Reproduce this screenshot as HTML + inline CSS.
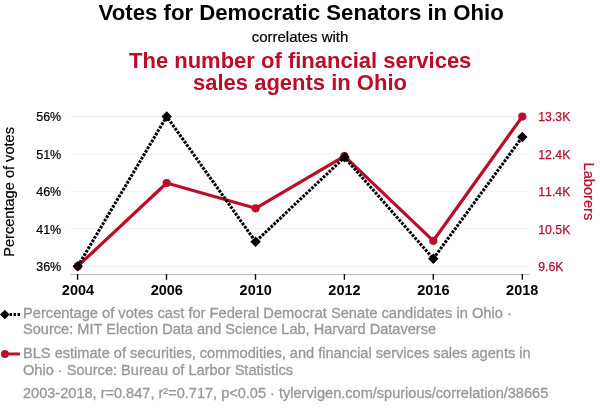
<!DOCTYPE html>
<html><head><meta charset="utf-8">
<style>
html,body{margin:0;padding:0;background:#fff;}
svg{display:block;will-change:transform;}
text{font-family:"Liberation Sans",sans-serif;}
</style></head>
<body>
<svg width="600" height="414" viewBox="0 0 600 414">
<rect width="600" height="414" fill="#fff"/>
<!-- titles -->
<text x="301.2" y="19.7" text-anchor="middle" font-size="22.2" font-weight="bold" fill="#000">Votes for Democratic Senators in Ohio</text>
<text x="300" y="41.8" text-anchor="middle" font-size="15" fill="#000" stroke="#000" stroke-width="0.2">correlates with</text>
<text x="300.2" y="67.5" text-anchor="middle" font-size="22" font-weight="bold" fill="#b90d2a">The number of financial services</text>
<text x="300" y="89.7" text-anchor="middle" font-size="22" font-weight="bold" fill="#b90d2a">sales agents in Ohio</text>
<!-- gridlines -->
<g stroke="#f0f0f0" stroke-width="1">
<line x1="71" x2="528" y1="116.4" y2="116.4"/>
<line x1="71" x2="528" y1="153.9" y2="153.9"/>
<line x1="71" x2="528" y1="191.3" y2="191.3"/>
<line x1="71" x2="528" y1="228.7" y2="228.7"/>
<line x1="71" x2="528" y1="266.2" y2="266.2"/>
</g>
<!-- axis -->
<line x1="70" x2="530" y1="274.5" y2="274.5" stroke="#bdbdbd" stroke-width="1"/>
<g stroke="#111" stroke-width="1.4">
<line x1="77.6" x2="77.6" y1="274" y2="279.8"/>
<line x1="166.5" x2="166.5" y1="274" y2="279.8"/>
<line x1="255.5" x2="255.5" y1="274" y2="279.8"/>
<line x1="344.4" x2="344.4" y1="274" y2="279.8"/>
<line x1="433.3" x2="433.3" y1="274" y2="279.8"/>
<line x1="522.3" x2="522.3" y1="274" y2="279.8"/>
</g>
<!-- y labels left -->
<g font-size="12.5" fill="#000" stroke="#000" stroke-width="0.2" text-anchor="start">
<text x="36.2" y="121.1">56%</text>
<text x="36.2" y="159">51%</text>
<text x="36.2" y="196">46%</text>
<text x="36.2" y="234">41%</text>
<text x="36.2" y="271.1">36%</text>
</g>
<!-- y labels right -->
<g font-size="12.25" fill="#b90d2a" stroke="#b90d2a" stroke-width="0.25" text-anchor="start" style="font-kerning:none">
<text x="538.3" y="120.8">13.3K</text>
<text x="538.3" y="158.6">12.4K</text>
<text x="538.3" y="195.8">11.4K</text>
<text x="538.3" y="233.6">10.5K</text>
<text x="538.3" y="270.8">9.6K</text>
</g>
<!-- x labels -->
<g font-size="14.5" font-weight="bold" fill="#000" text-anchor="middle">
<text x="78" y="294.7">2004</text>
<text x="166.8" y="294.7">2006</text>
<text x="255.7" y="294.7">2010</text>
<text x="344.5" y="294.7">2012</text>
<text x="433.4" y="294.7">2016</text>
<text x="522.2" y="294.7">2018</text>
</g>
<!-- axis titles -->
<text transform="translate(13.9,191.9) rotate(-90)" text-anchor="middle" font-size="14.6" fill="#000" stroke="#000" stroke-width="0.2">Percentage of votes</text>
<text transform="translate(584.2,191.4) rotate(90)" text-anchor="middle" font-size="14.6" fill="#b90d2a" stroke="#b90d2a" stroke-width="0.25">Laborers</text>
<!-- red series -->
<polyline fill="none" stroke="#b90d2a" stroke-width="3.2" stroke-linejoin="round" points="77.8,266.2 166.7,183 255.6,208.3 344.5,156.2 433.3,240.8 522.3,116.6"/>
<g fill="#b90d2a">
<circle cx="77.8" cy="266.2" r="4.1"/><circle cx="166.7" cy="183" r="4.1"/><circle cx="255.6" cy="208.3" r="4.1"/><circle cx="344.5" cy="156.2" r="4.1"/><circle cx="433.3" cy="240.8" r="4.1"/><circle cx="522.3" cy="116.6" r="4.1"/>
</g>
<!-- black series -->
<polyline fill="none" stroke="#000" stroke-width="3.1" stroke-dasharray="2.7,1.305" stroke-dashoffset="3.85" stroke-linejoin="round" points="77.8,266.2 166.7,116.5 255.6,241.7 344.5,157.3 433.3,258.7 522.3,137"/>
<g fill="#000">
<path d="M77.8,261 l5.2,5.2 l-5.2,5.2 l-5.2,-5.2z"/>
<path d="M166.7,111.3 l5.2,5.2 l-5.2,5.2 l-5.2,-5.2z"/>
<path d="M255.6,236.5 l5.2,5.2 l-5.2,5.2 l-5.2,-5.2z"/>
<path d="M344.5,152.1 l5.2,5.2 l-5.2,5.2 l-5.2,-5.2z"/>
<path d="M433.3,253.5 l5.2,5.2 l-5.2,5.2 l-5.2,-5.2z"/>
<path d="M522.3,131.8 l5.2,5.2 l-5.2,5.2 l-5.2,-5.2z"/>
</g>
<!-- legend -->
<line x1="1.6" x2="20" y1="314.5" y2="314.5" stroke="#000" stroke-width="3" stroke-dasharray="2.4,1.6"/>
<path d="M4.8,309.7 l4.8,4.8 l-4.8,4.8 l-4.8,-4.8z" fill="#000"/>
<line x1="4" x2="19.9" y1="354" y2="354" stroke="#b90d2a" stroke-width="3"/>
<circle cx="4.9" cy="354" r="3.9" fill="#b90d2a"/>
<g font-size="14.55" fill="#979797" stroke="#979797" stroke-width="0.3">
<text x="23" y="318.4" textLength="488.8" lengthAdjust="spacingAndGlyphs">Percentage of votes cast for Federal Democrat Senate candidates in Ohio ·</text>
<text x="23" y="334.4" textLength="413.1" lengthAdjust="spacingAndGlyphs">Source: MIT Election Data and Science Lab, Harvard Dataverse</text>
<text x="23" y="358.4" textLength="507.7" lengthAdjust="spacingAndGlyphs">BLS estimate of securities, commodities, and financial services sales agents in</text>
<text x="23" y="374.6" textLength="270" lengthAdjust="spacingAndGlyphs">Ohio · Source: Bureau of Larbor Statistics</text>
<text x="23" y="397.6">2003-2018, r=0.847, r²=0.717, p&lt;0.05 · tylervigen.com/spurious/correlation/38665</text>
</g>
</svg>
</body></html>
